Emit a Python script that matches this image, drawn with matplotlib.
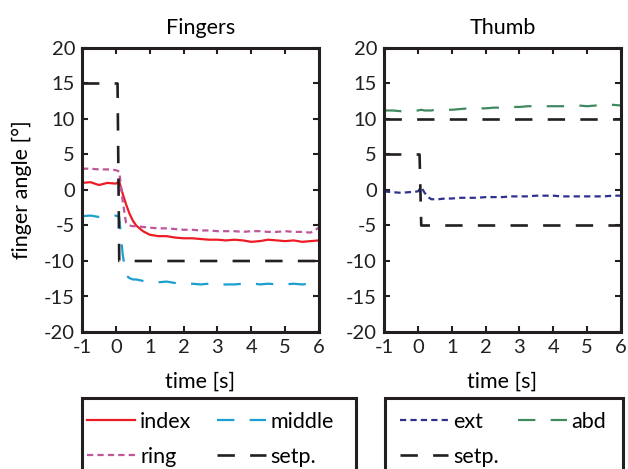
import matplotlib
matplotlib.use("Agg")
import matplotlib.pyplot as plt
from matplotlib.patches import Rectangle

plt.rcParams["font.family"] = ["Lato", "DejaVu Sans"]
plt.rcParams["font.size"] = 15
plt.rcParams["axes.unicode_minus"] = False
plt.rcParams["lines.scale_dashes"] = False

# sample times (s)
t = [-1.0, -0.75, -0.5, -0.25, 0.0, 0.1, 0.2, 0.3, 0.4, 0.5, 0.6, 0.8, 1.0,
     1.25, 1.5, 1.75, 2.0, 2.25, 2.5, 2.75, 3.0, 3.25, 3.5, 3.75, 4.0,
     4.25, 4.5, 4.75, 5.0, 5.25, 5.5, 5.75, 6.0]

# finger angles (deg)
index = [1.0, 1.1, 0.7, 1.0, 0.9, 1.2, -0.5, -2.0, -3.3, -4.3, -5.0, -5.8, -6.3,
         -6.5, -6.5, -6.7, -6.8, -6.8, -6.9, -7.0, -7.0, -7.1, -7.0, -7.1, -7.3,
         -7.2, -7.0, -7.1, -7.2, -7.1, -7.3, -7.2, -7.1]
middle = [-3.7, -3.6, -3.8, -3.7, -3.6, -3.8, -9.0, -12.0, -12.4, -12.6, -12.6, -12.8, -13.0,
          -13.0, -12.9, -13.1, -13.2, -13.2, -13.3, -13.2, -13.4, -13.3, -13.3, -13.2, -13.1,
          -13.3, -13.2, -13.3, -13.3, -13.2, -13.3, -13.2, -13.1]
ring = [3.0, 3.0, 2.9, 2.9, 2.8, 2.6, -1.5, -4.6, -5.0, -5.1, -5.1, -5.2, -5.3,
        -5.4, -5.4, -5.5, -5.6, -5.6, -5.7, -5.7, -5.8, -5.8, -5.8, -5.9, -5.8,
        -5.8, -5.9, -5.9, -5.8, -5.9, -5.9, -6.0, -5.3]

# thumb angles (deg)
ext = [-0.2, -0.3, -0.4, -0.3, -0.2, 0.4, -0.4, -1.0, -1.3, -1.3, -1.3, -1.2, -1.2,
       -1.1, -1.1, -1.1, -1.0, -1.0, -1.0, -0.9, -0.9, -0.9, -0.8, -0.8, -0.8,
       -0.9, -0.9, -0.9, -0.9, -0.9, -0.9, -0.8, -0.8]
abd = [11.2, 11.2, 11.1, 11.2, 11.2, 11.3, 11.2, 11.2, 11.2, 11.3, 11.3, 11.3, 11.3,
       11.4, 11.5, 11.5, 11.5, 11.6, 11.6, 11.7, 11.7, 11.8, 11.8, 11.8, 11.8,
       11.8, 11.8, 11.9, 11.8, 11.9, 11.9, 12.0, 11.9]

# setpoints
t_step = [-1.0, 0.05, 0.1, 6.0]
setp_fingers = [15, 15, -10, -10]
setp_ext = [5, 5, -5, -5]
t_flat = [-1.0, 6.0]
setp_abd = [10, 10]

c_index = "#ed1c24"
c_middle = "#1a9fd0"
c_ring = "#c0559a"
c_setp = "#231f20"
c_ext = "#2e3192"
c_abd = "#3f8a60"

lw = 1.6
dash = (0, (12.5, 11))
dots = (0, (4.5, 3))
fs_text = 15.5
fs_tick = 14.5

fig = plt.figure(figsize=(6.28, 4.69), dpi=100)
W, H = 628, 469
ax1 = fig.add_axes([82 / W, 1 - 332 / H, 237 / W, 284 / H])
ax2 = fig.add_axes([384 / W, 1 - 332 / H, 237 / W, 284 / H])

l_index, = ax1.plot(t, index, color=c_index, lw=lw, label="index")
l_middle, = ax1.plot(t, middle, color=c_middle, lw=lw, linestyle=dash, label="middle")
l_ring, = ax1.plot(t, ring, color=c_ring, lw=lw, linestyle=dots, label="ring")
l_setp1, = ax1.plot(t_step, setp_fingers, color=c_setp, lw=lw + 0.3, linestyle=dash, label="setp.")

l_ext, = ax2.plot(t, ext, color=c_ext, lw=lw, linestyle=dots, label="ext")
l_abd, = ax2.plot(t, abd, color=c_abd, lw=lw, linestyle=dash, label="abd")
l_setp2, = ax2.plot(t_step, setp_ext, color=c_setp, lw=lw + 0.3, linestyle=dash, label="setp.")
ax2.plot(t_flat, setp_abd, color=c_setp, lw=lw + 0.3, linestyle=dash)

for ax, title in [(ax1, "Fingers"), (ax2, "Thumb")]:
    ax.set_xlim(-1, 6)
    ax.set_ylim(-20, 20)
    ax.set_xticks(range(-1, 7))
    ax.set_yticks(range(-20, 21, 5))
    ax.set_title(title, fontsize=fs_text, pad=10)
    ax.set_xlabel("time [s]", fontsize=fs_text, labelpad=11)
    ax.tick_params(direction="in", length=4, width=1.5, top=True, right=True,
                   labelsize=fs_tick, pad=5, colors="#231f20")
    for s in ax.spines.values():
        s.set_linewidth(2.2)
        s.set_color("#231f20")

ax1.set_ylabel("finger angle [°]", fontsize=fs_text, labelpad=9)

# legend boxes below the axes, running off the bottom edge
for x0, x1 in [(82, 356), (385, 623)]:
    fig.patches.append(Rectangle((x0 / W, -0.1), (x1 - x0) / W, 0.1 + 1 - 398 / H,
                                 transform=fig.transFigure, fill=False,
                                 edgecolor="#231f20", linewidth=2.2))

leg_kw = dict(loc="upper left", ncol=2, mode="expand", fontsize=fs_text, frameon=False,
              handlelength=2.25, handletextpad=0.22, labelspacing=0.68,
              borderpad=0, borderaxespad=0)
# matplotlib fills legend columns first, so list handles column by column
fig.legend([l_index, l_ring, l_middle, l_setp1], ["index", "ring", "middle", "setp."],
           bbox_to_anchor=(87 / W, 0, (334 - 87) / W, 1 - 412 / H), **leg_kw)
fig.legend([l_ext, l_setp2, l_abd], ["ext", "setp.", "abd"],
           bbox_to_anchor=(400 / W, 0, (606 - 400) / W, 1 - 412 / H), **leg_kw)

fig.savefig("out.png", dpi=100)
